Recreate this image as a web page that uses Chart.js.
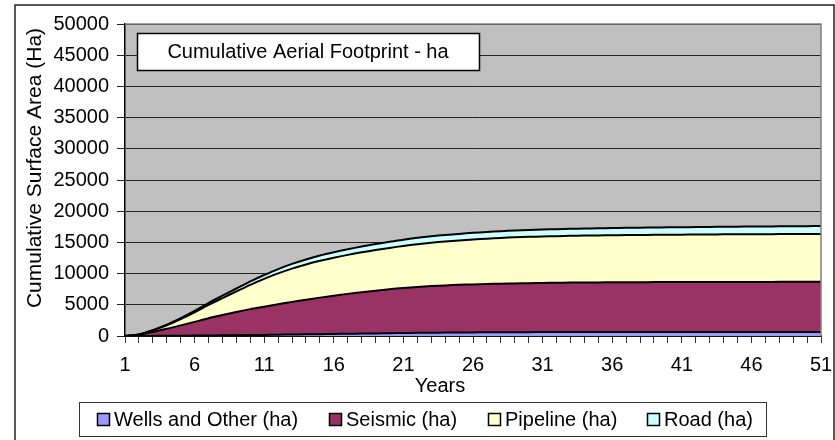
<!DOCTYPE html>
<html>
<head>
<meta charset="utf-8">
<title>Cumulative Aerial Footprint</title>
<script src="https://cdn.jsdelivr.net/npm/chart.js@4.4.1/dist/chart.umd.min.js"></script>
<style>
  html, body { margin: 0; padding: 0; background: #ffffff; }
  canvas { display: block; }
</style>
</head>
<body>
<canvas id="chart" width="835" height="440"></canvas>
<script>
// Years since start of development
const years = ['1','2','3','4','5','6','7','8','9','10','11','12','13','14','15','16','17','18','19','20',
  '21','22','23','24','25','26','27','28','29','30','31','32','33','34','35','36','37','38','39','40',
  '41','42','43','44','45','46','47','48','49','50','51'];

// Cumulative footprint by disturbance type (ha)
const wellsHa = [0,5,15,30,45,65,85,105,130,155,180,210,240,270,300,330,360,390,420,450,
  480,505,530,550,565,580,592,603,612,620,627,632,637,641,645,648,651,654,656,658,
  659,660,660,660,660,660,660,660,660,660,660];
const seismicHa = [0,195,635,1120,1655,2200,2750,3250,3720,4150,4520,4890,5230,5550,5850,6130,6390,6630,6850,7050,
  7220,7360,7470,7560,7630,7690,7740,7785,7820,7850,7875,7898,7918,7934,7945,7957,7964,7971,7979,7982,
  7985,7990,7995,8000,8005,8008,8011,8014,8017,8020,8022];
const pipelineHa = [0,35,250,550,990,1520,2150,2720,3300,3900,4450,4930,5330,5650,5900,6090,6250,6390,6510,6620,
  6740,6850,6950,7040,7120,7200,7270,7330,7380,7420,7450,7475,7495,7515,7530,7545,7560,7570,7580,7590,
  7600,7610,7620,7630,7640,7645,7650,7655,7660,7665,7670];
const roadHa = [0,15,50,100,160,230,300,380,460,540,620,690,750,800,840,870,900,930,955,980,
  1000,1015,1030,1040,1050,1060,1070,1080,1090,1100,1110,1118,1126,1134,1142,1150,1158,1166,1174,1182,
  1190,1198,1206,1214,1222,1230,1238,1246,1254,1262,1270];

const seriesNames = ['Wells and Other (ha)', 'Seismic (ha)', 'Pipeline (ha)', 'Road (ha)'];
const seriesColors = ['#9999ff', '#993366', '#ffffcc', '#ccffff'];

const chartTitle = 'Cumulative Aerial Footprint - ha';
const xTitle = 'Years';
const yTitle = 'Cumulative Surface Area (Ha)';

const FONT = '"Liberation Sans", Arial, Helvetica, sans-serif';
Chart.defaults.font.family = FONT;
Chart.defaults.font.size = 20;
Chart.defaults.color = '#000000';

// Background panel, framed title, axis titles and boxed legend
const decorations = {
  id: 'decorations',
  beforeDraw(chart) {
    const { ctx, chartArea: a } = chart;
    ctx.save();
    ctx.fillStyle = '#ffffff';
    ctx.fillRect(0, 0, chart.width, chart.height);
    ctx.fillStyle = '#c0c0c0';
    ctx.fillRect(a.left, a.top, a.right - a.left, a.bottom - a.top);
    ctx.restore();
  },
  afterDraw(chart) {
    const { ctx, chartArea: a } = chart;
    ctx.save();

    // plot frame
    ctx.strokeStyle = '#808080';
    ctx.lineWidth = 1.5;
    ctx.beginPath();
    ctx.moveTo(a.left, a.top);
    ctx.lineTo(a.right, a.top);
    ctx.lineTo(a.right, a.bottom);
    ctx.stroke();

    // outer chart frame
    ctx.strokeStyle = '#222222';
    ctx.lineWidth = 1.5;
    ctx.strokeRect(15, 5, 819, 445);

    // title box
    ctx.fillStyle = '#ffffff';
    ctx.fillRect(137.5, 33.5, 342, 37);
    ctx.strokeStyle = '#000000';
    ctx.lineWidth = 1.5;
    ctx.strokeRect(137.5, 33.5, 342, 37);
    ctx.fillStyle = '#000000';
    ctx.font = '20px ' + FONT;
    ctx.textAlign = 'center';
    ctx.textBaseline = 'middle';
    ctx.fillText(chartTitle, 308, 52);

    // axis titles
    ctx.fillText(xTitle, 440, 386);
    ctx.save();
    ctx.translate(35, 168);
    ctx.rotate(-Math.PI / 2);
    ctx.font = '21px ' + FONT;
    ctx.fillText(yTitle, 0, 0);
    ctx.restore();

    // legend
    ctx.fillStyle = '#ffffff';
    ctx.fillRect(79.5, 402.5, 687, 34);
    ctx.strokeStyle = '#333333';
    ctx.lineWidth = 1;
    ctx.strokeRect(79.5, 402.5, 687, 34);
    const itemX = [97, 329, 488, 647];
    ctx.textAlign = 'left';
    chart.data.datasets.forEach((ds, i) => {
      const x = itemX[i];
      ctx.fillStyle = ds.backgroundColor;
      ctx.fillRect(x + 0.5, 413.5, 12, 12);
      ctx.strokeStyle = '#000000';
      ctx.lineWidth = 1.5;
      ctx.strokeRect(x + 0.5, 413.5, 12, 12);
      ctx.fillStyle = '#000000';
      ctx.fillText(ds.label, x + 17, 420);
    });

    ctx.restore();
  }
};

const seriesData = [wellsHa, seismicHa, pipelineHa, roadHa];

new Chart(document.getElementById('chart'), {
  type: 'line',
  data: {
    labels: years,
    datasets: seriesData.map((d, i) => ({
      label: seriesNames[i],
      data: d,
      backgroundColor: seriesColors[i],
      borderColor: '#000000',
      borderWidth: 2,
      fill: i === 0 ? 'origin' : '-1',
      pointRadius: 0,
      tension: 0.3
    }))
  },
  options: {
    responsive: false,
    animation: false,
    devicePixelRatio: 1,
    events: [],
    layout: { padding: { left: 0, right: 14, top: 24, bottom: 0 } },
    plugins: {
      legend: { display: false },
      tooltip: { enabled: false },
      title: { display: false }
    },
    scales: {
      x: {
        offset: false,
        grid: { drawOnChartArea: false, drawTicks: true, tickLength: 7, color: '#333333' },
        border: { color: '#000000', width: 1.5 },
        ticks: {
          autoSkip: false,
          maxRotation: 0,
          padding: 10,
          font: { size: 20 },
          callback: (v, i) => (i % 5 === 0 ? years[i] : '')
        },
        afterFit: (s) => { s.height = 104; s.paddingLeft = 0; s.paddingRight = 0; }
      },
      y: {
        stacked: true,
        min: 0,
        max: 50000,
        grid: { color: '#222222', tickLength: 8, lineWidth: 1 },
        border: { color: '#000000', width: 1.5 },
        ticks: { stepSize: 5000, padding: 8, font: { size: 20 }, callback: (v) => String(v) },
        afterFit: (s) => { s.width = 125; s.paddingTop = 0; s.paddingBottom = 0; }
      }
    }
  },
  plugins: [decorations]
});
</script>
</body>
</html>
